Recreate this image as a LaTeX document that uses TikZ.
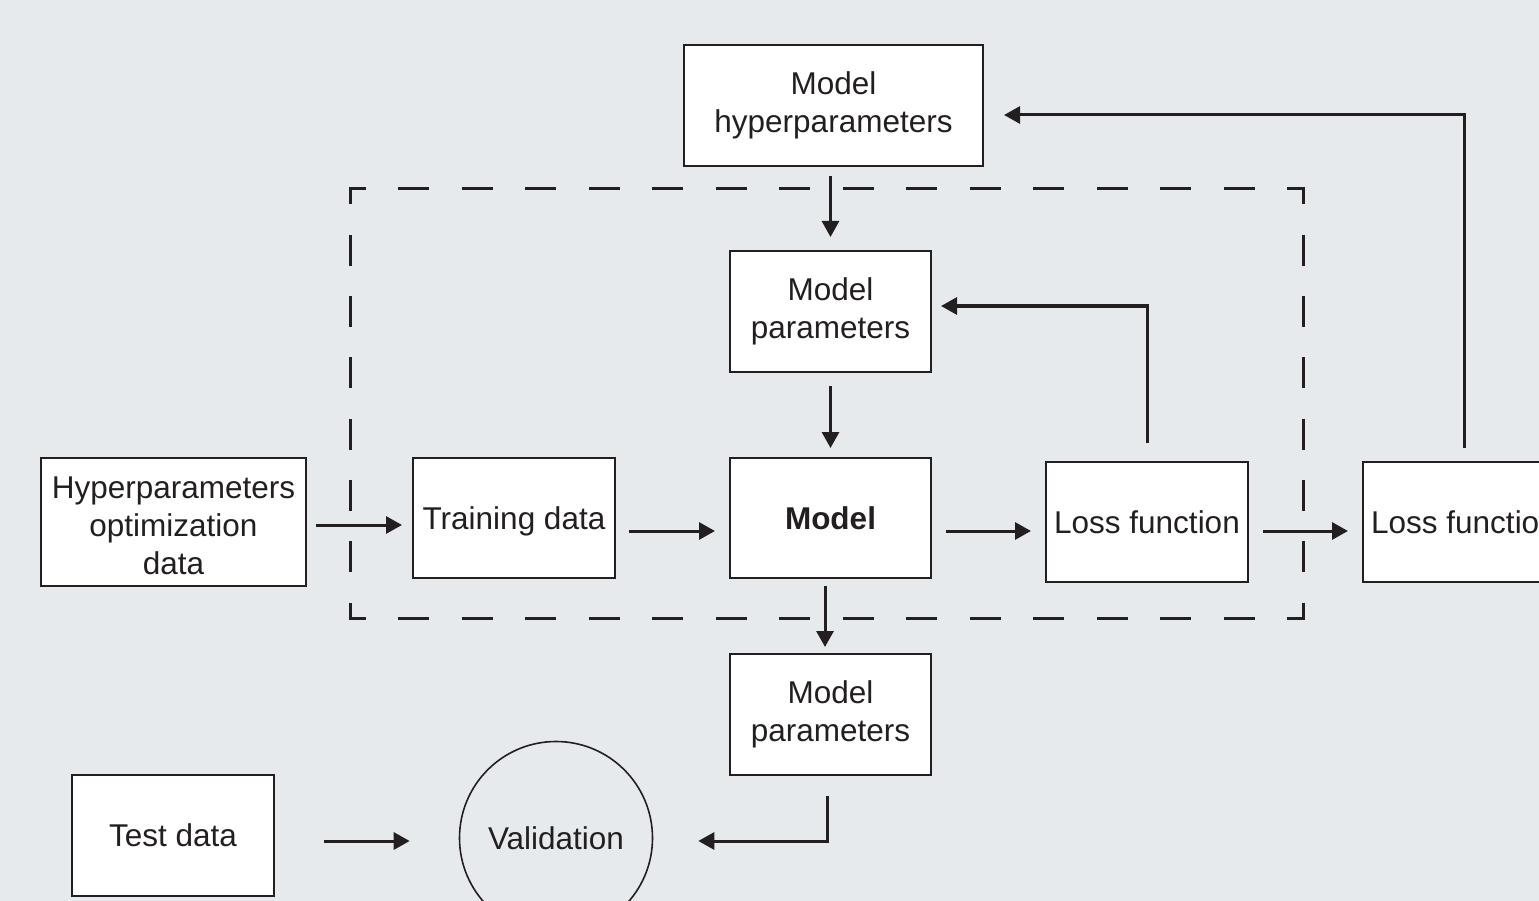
\documentclass[tikz,border=0pt]{standalone}
\usepackage{fontspec}
\setmainfont{Liberation Sans}
\usetikzlibrary{arrows.meta,calc}
\definecolor{bgc}{HTML}{E7EAED}
\definecolor{ink}{HTML}{231F20}
\begin{document}
\begin{tikzpicture}[x=1pt,y=-1pt,
  box/.style={draw=ink,fill=white,line width=2pt,inner sep=0pt,align=center,
    font=\fontsize{31.5}{38}\selectfont,text=ink},
  txt/.style={inner sep=0pt,align=center,font=\fontsize{31.5}{38}\selectfont,text=ink},
  arr/.style={draw=ink,line width=3pt,-{Triangle[length=16pt,width=17pt]}},
  dashh/.style={draw=ink,line width=3pt,line cap=rect,dash pattern=on 28pt off 35.53pt,dash phase=14pt},
  dashv/.style={draw=ink,line width=3pt,line cap=rect,dash pattern=on 28pt off 33.29pt,dash phase=14pt}]
\clip (0,0) rectangle (1539,901);
\fill[bgc] (0,0) rectangle (1539,901);
\coordinate (fa) at (350,189);
\coordinate (fb) at (1303,189);
\coordinate (fc) at (1303,618);
\coordinate (fd) at (350,618);
\draw[dashh] (fa) -- (fb);
\draw[dashv] (fb) -- (fc);
\draw[dashh] (fd) -- (fc);
\draw[dashv] (fa) -- (fd);
\node[box,minimum width=299pt,minimum height=121pt] (hyper) at (833.5,105.5) {Model\\hyperparameters};
\node[box,minimum width=201pt,minimum height=121pt] (mpt) at (830.5,311.5) {Model\\parameters};
\node[box,minimum width=201pt,minimum height=120pt] (model) at (830.5,518) {\textbf{Model}};
\node[box,minimum width=202pt,minimum height=120pt,text depth=0pt] (train) at (514,518) {Training data};
\node[box,minimum width=265pt,minimum height=128pt] (hod) at (173.5,522) {};
\node[txt] (hodtext) at (173.5,526) {Hyperparameters\\optimization\\data};
\node[box,minimum width=202pt,minimum height=120pt] (loss) at (1147,522) {Loss function};
\node[box,minimum width=202pt,minimum height=120pt] (lossout) at (1464,522) {Loss function};
\node[box,minimum width=201pt,minimum height=121pt] (mpb) at (830.5,714.5) {Model\\parameters};
\node[box,minimum width=202pt,minimum height=121pt] (test) at (173,835.5) {Test data};
\node[box,circle,line width=1.6pt,fill=none,minimum size=193pt] (val) at (556,838) {Validation};
% arrows
\draw[arr] ([xshift=9pt,yshift=-3pt]hod.east) -- ([xshift=-10pt,yshift=-7pt]train.west);
\draw[arr] ([xshift=13pt,yshift=-13pt]train.east) -- ([xshift=-14pt,yshift=-13pt]model.west);
\draw[arr] ([xshift=14pt,yshift=-13pt]model.east) -- ([xshift=-14pt,yshift=-9pt]loss.west);
\draw[arr] ([xshift=14pt,yshift=-9pt]loss.east) -- ([xshift=-14pt,yshift=-9pt]lossout.west);
\draw[arr] ([yshift=18pt]loss.north) |- ([xshift=9pt,yshift=5.5pt]mpt.east);
\draw[arr] ([yshift=13pt]lossout.north) |- ([xshift=20pt,yshift=-9.5pt]hyper.east);
\draw[arr] ($(hyper.south -| mpt.north)+(0,9)$) -- ([yshift=13pt]mpt.north);
\draw[arr] ([yshift=-13pt]mpt.south) -- ([yshift=9pt]model.north);
\draw[arr] ([xshift=-5.5pt,yshift=-7pt]model.south) -- ([xshift=-5.5pt,yshift=6pt]mpb.north);
\draw[arr] ([xshift=-3.5pt,yshift=-20pt]mpb.south) |- ([xshift=45pt,yshift=-3pt]val.east);
\draw[arr] ([xshift=49pt,yshift=-5.5pt]test.east) -- ([xshift=-49pt,yshift=-3pt]val.west);
\end{tikzpicture}
\end{document}
